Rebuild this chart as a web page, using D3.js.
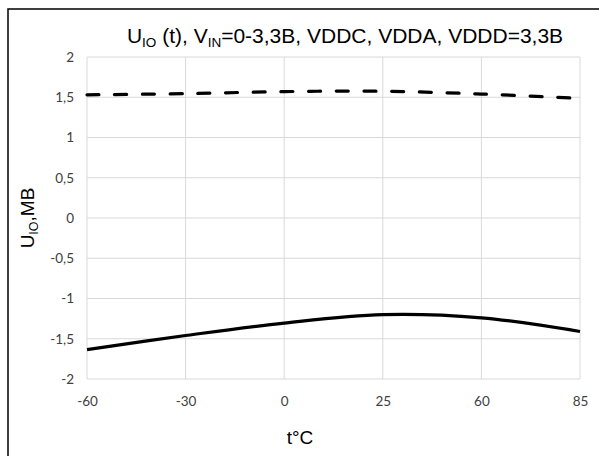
<!DOCTYPE html>
<html><head><meta charset="utf-8">
<script src="https://cdn.jsdelivr.net/npm/d3@7"></script>
<style>body{margin:0;background:#fff}svg{display:block}</style>
</head><body>
<svg id="c" width="599" height="456"></svg>
<script>
const categories = ["-60","-30","0","25","60","85"];
const dashedSeries = [1.53, 1.545, 1.57, 1.575, 1.54, 1.485];
const solidSeries = [-1.635, -1.46, -1.305, -1.20, -1.24, -1.41];
const yTicks = [-2,-1.5,-1,-0.5,0,0.5,1,1.5,2];

const svg = d3.select("#c");
const m = {l:87, r:580, t:57, b:379};
svg.append("rect").attr("x",8).attr("y",9).attr("width",620).attr("height",480)
  .attr("fill","#fff").attr("stroke","#000").attr("stroke-width",1.5);

const x = d3.scalePoint().domain(categories).range([m.l, m.r]);
const y = d3.scaleLinear().domain([-2,2]).range([m.b, m.t]);

const g = svg.append("g");
g.selectAll(".hg").data(yTicks).join("line")
  .attr("x1",m.l).attr("x2",m.r).attr("y1",d=>y(d)).attr("y2",d=>y(d))
  .attr("stroke","#d9d9d9").attr("stroke-width",1);
g.selectAll(".vg").data(categories).join("line")
  .attr("x1",d=>x(d)).attr("x2",d=>x(d)).attr("y1",m.t).attr("y2",m.b)
  .attr("stroke","#d9d9d9").attr("stroke-width",1);

const fmt = d => String(d).replace(".", ",");
const yAxis = d3.axisLeft(y).tickValues(yTicks).tickFormat(fmt).tickSize(0).tickPadding(13);
const ya = svg.append("g").attr("transform",`translate(${m.l},0)`).call(yAxis);
ya.select(".domain").remove();
ya.selectAll("text").attr("font-family","Lato, 'Liberation Sans', sans-serif").attr("font-size",13.5).attr("fill","#404040");

const xAxis = d3.axisBottom(x).tickSize(0).tickPadding(17);
const xa = svg.append("g").attr("transform",`translate(0,${m.b})`).call(xAxis);
xa.select(".domain").remove();
xa.selectAll("text").attr("font-family","Lato, 'Liberation Sans', sans-serif").attr("font-size",13.5).attr("fill","#404040");

const line = d3.line().x((d,i)=>x(categories[i])).y(d=>y(d)).curve(d3.curveCatmullRom.alpha(0.5));
svg.append("path").datum(solidSeries).attr("d",line).attr("fill","none")
  .attr("stroke","#000").attr("stroke-width",3.2);
svg.append("path").datum(dashedSeries).attr("d",line).attr("fill","none")
  .attr("stroke","#000").attr("stroke-width",3.2).attr("stroke-linecap","round")
  .attr("stroke-dasharray","12 15.7");

const title = svg.append("text").attr("x",345).attr("y",43).attr("text-anchor","middle")
  .attr("font-family","'Liberation Sans', Arial, sans-serif").attr("font-size",21).attr("fill","#000");
title.append("tspan").text("U");
title.append("tspan").attr("font-size",13.5).attr("dy",4).text("IO");
title.append("tspan").attr("dy",-4).text(" (t), V");
title.append("tspan").attr("font-size",13.5).attr("dy",4).text("IN");
title.append("tspan").attr("dy",-4).text("=0-3,3B, VDDC, VDDA, VDDD=3,3B");

svg.append("text").attr("x",300).attr("y",444).attr("text-anchor","middle")
  .attr("font-family","'Liberation Sans', Arial, sans-serif").attr("font-size",19).attr("fill","#000").text("t°C");

const yt = svg.append("text").attr("transform","translate(34,218) rotate(-90)").attr("text-anchor","middle")
  .attr("font-family","'Liberation Sans', Arial, sans-serif").attr("font-size",19).attr("fill","#000");
yt.append("tspan").text("U");
yt.append("tspan").attr("font-size",12.5).attr("dy",4).text("IO");
yt.append("tspan").attr("dy",-4).text(",MB");
</script>
</body></html>
